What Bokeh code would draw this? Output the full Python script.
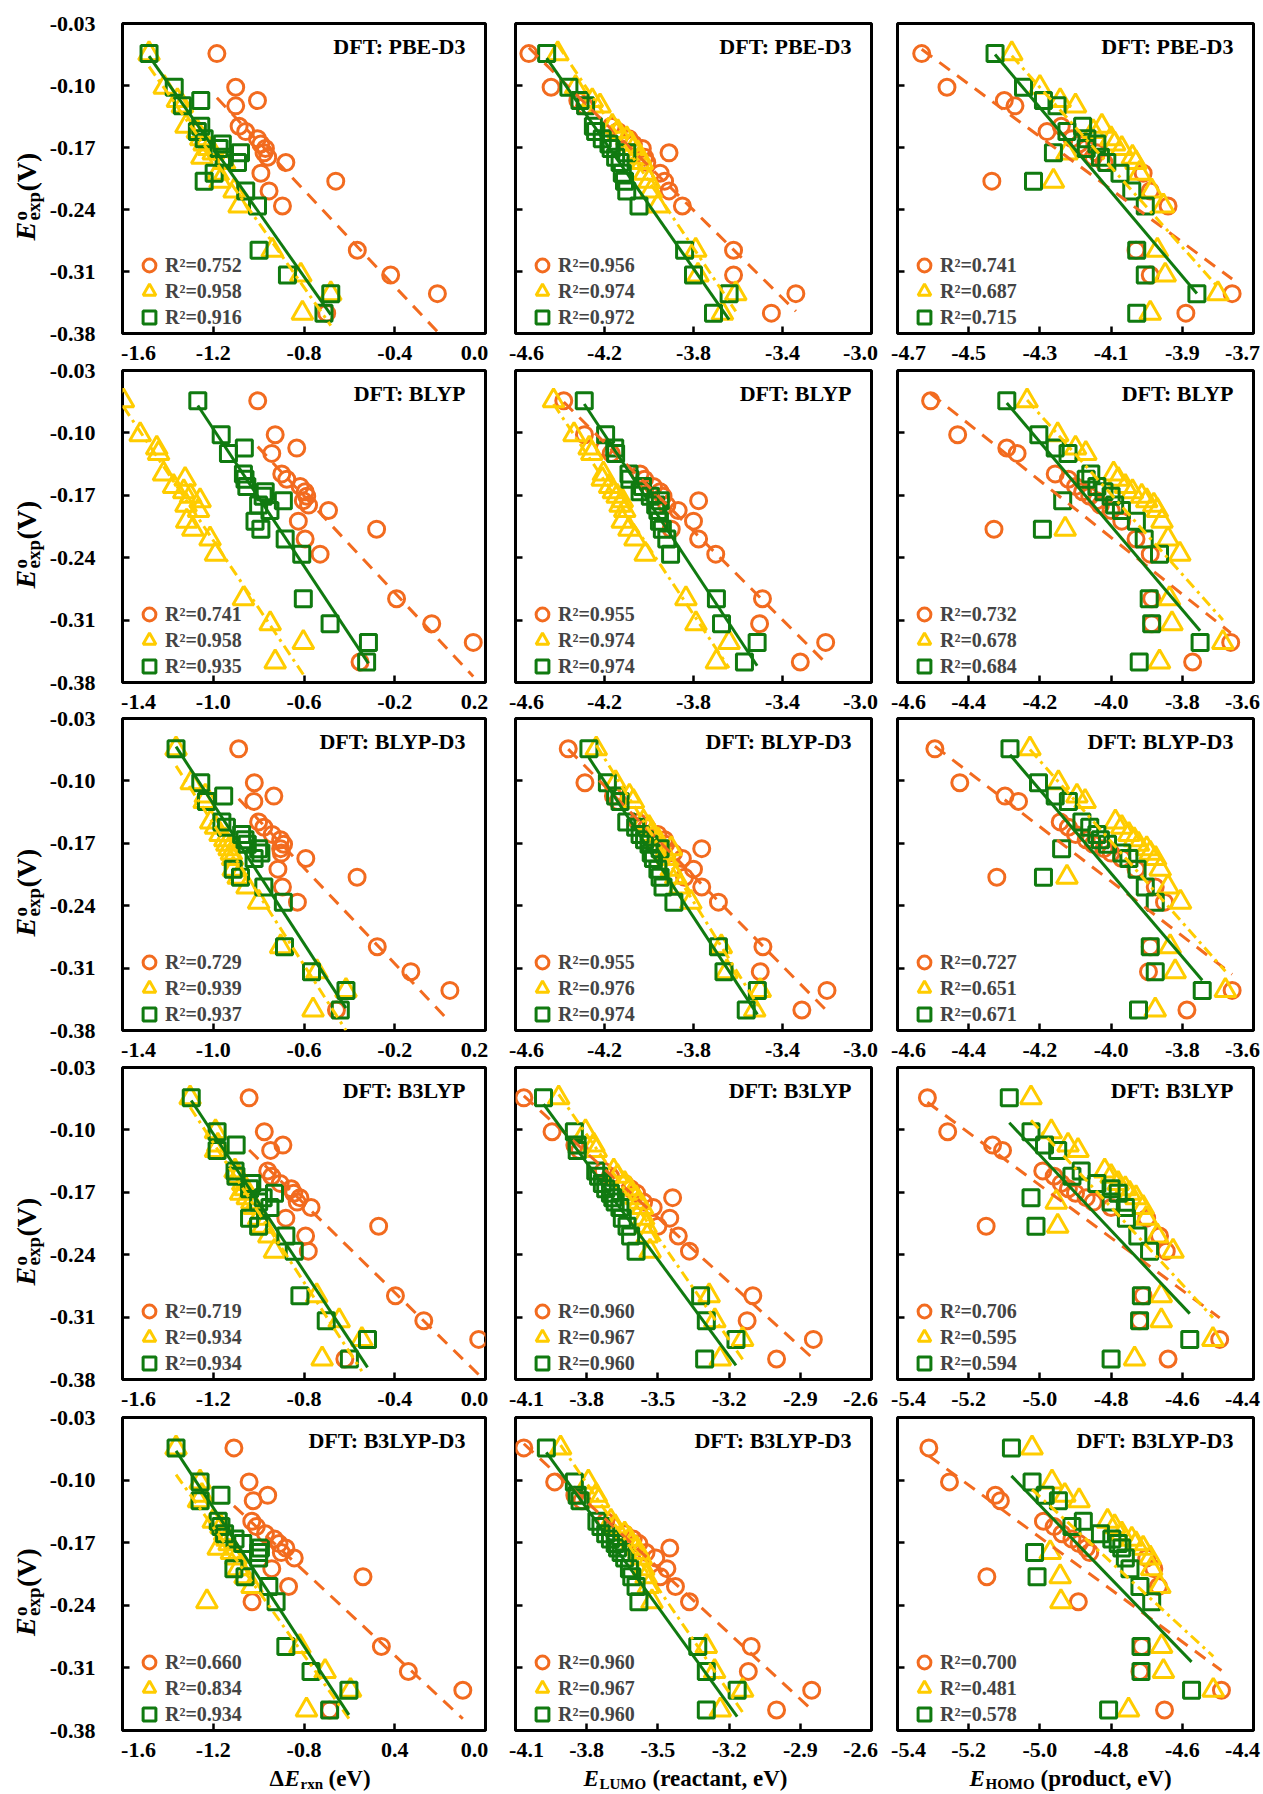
import math
import numpy as np
from bokeh.plotting import figure
from bokeh.models import (Range1d, FixedTicker, Label, Legend, LegendItem,
                          CustomJSTickFormatter)
from bokeh.layouts import row, column
from bokeh.embed import file_html
from bokeh.resources import INLINE

# ---------------- data ----------------
# experimental potentials (same molecules in every panel)
Y_EXP = [-0.064, -0.102, -0.117, -0.123, -0.146, -0.152, -0.160, -0.166, -0.171, -0.176,
         -0.181, -0.187, -0.199, -0.208, -0.219, -0.236, -0.286, -0.314, -0.335, -0.357]

FUNCTIONALS = ["PBE-D3", "BLYP", "BLYP-D3", "B3LYP", "B3LYP-D3"]

# PBE-D3
PBED3_DE_O = [-1.184, -1.101, -1.005, -1.101, -1.086, -1.057, -1.005, -0.990, -0.970, -0.976, -0.960, -0.880, -0.990, -0.660, -0.954, -0.895, -0.565, -0.418, -0.212, -0.700]
PBED3_DE_T = [-1.483, -1.416, -1.358, -1.336, -1.320, -1.270, -1.255, -1.240, -1.220, -1.200, -1.250, -1.150, -1.180, -1.170, -1.108, -1.086, -0.940, -0.814, -0.682, -0.807]
PBED3_DE_S = [-1.483, -1.372, -1.255, -1.336, -1.255, -1.270, -1.240, -1.160, -1.174, -1.080, -1.152, -1.093, -1.196, -1.240, -1.057, -1.005, -0.998, -0.873, -0.682, -0.712]
PBED3_LUMO_O = [-4.54, -4.44, -4.32, -4.29, -4.17, -4.14, -4.09, -4.07, -4.03, -3.91, -4.02, -4.01, -3.95, -3.93, -3.91, -3.85, -3.62, -3.62, -3.34, -3.45]
PBED3_LUMO_T = [-4.41, -4.33, -4.255, -4.22, -4.165, -4.14, -4.10, -4.08, -4.07, -4.05, -4.04, -4.03, -4.02, -4.00, -3.99, -3.96, -3.79, -3.78, -3.61, -3.67]
PBED3_LUMO_S = [-4.46, -4.36, -4.31, -4.285, -4.25, -4.24, -4.21, -4.18, -4.17, -4.10, -4.15, -4.13, -4.12, -4.11, -4.10, -4.045, -3.84, -3.80, -3.64, -3.71]
PBED3_HOMO_O = [-4.632, -4.561, -4.40, -4.37, -4.24, -4.28, -4.21, -4.19, -4.17, -4.14, -4.15, -4.12, -4.01, -4.435, -3.99, -3.94, -4.03, -3.99, -3.76, -3.89]
PBED3_HOMO_T = [-4.379, -4.30, -4.243, -4.20, -4.126, -4.15, -4.10, -4.09, -4.07, -4.224, -4.04, -4.03, -4.02, -4.262, -3.986, -3.953, -3.97, -3.948, -3.80, -3.99]
PBED3_HOMO_S = [-4.426, -4.346, -4.29, -4.252, -4.18, -4.224, -4.168, -4.14, -4.17, -4.262, -4.13, -4.112, -4.075, -4.318, -4.042, -4.004, -4.028, -4.004, -3.859, -4.028]

# BLYP
BLYP_DE_O = [-0.804, -0.727, -0.632, -0.742, -0.698, -0.676, -0.617, -0.595, -0.588, -0.603, -0.580, -0.492, -0.625, -0.280, -0.595, -0.529, -0.192, -0.037, 0.146, -0.353]
BLYP_DE_T = [-1.396, -1.322, -1.249, -1.241, -1.219, -1.124, -1.175, -1.130, -1.100, -1.058, -1.120, -1.065, -1.117, -1.090, -1.014, -0.990, -0.867, -0.749, -0.603, -0.727]
BLYP_DE_S = [-1.068, -0.965, -0.863, -0.933, -0.867, -0.860, -0.852, -0.771, -0.780, -0.691, -0.800, -0.750, -0.816, -0.790, -0.683, -0.610, -0.603, -0.485, -0.316, -0.324]
BLYP_LUMO_O = [-4.383, -4.29, -4.20, -4.17, -4.04, -4.02, -3.98, -3.95, -3.937, -3.777, -3.92, -3.869, -3.80, -3.90, -3.777, -3.70, -3.49, -3.503, -3.206, -3.32]
BLYP_LUMO_T = [-4.429, -4.337, -4.269, -4.257, -4.205, -4.21, -4.177, -4.16, -4.143, -4.12, -4.13, -4.109, -4.12, -4.09, -4.063, -4.017, -3.834, -3.789, -3.64, -3.697]
BLYP_LUMO_S = [-4.291, -4.195, -4.154, -4.15, -4.09, -4.086, -4.029, -4.04, -3.994, -3.949, -3.97, -3.96, -3.953, -3.94, -3.92, -3.903, -3.697, -3.674, -3.514, -3.571]
BLYP_HOMO_O = [-4.507, -4.431, -4.293, -4.264, -4.157, -4.12, -4.10, -4.08, -4.06, -4.04, -4.03, -4.00, -3.97, -4.329, -3.93, -3.89, -3.886, -3.886, -3.664, -3.771]
BLYP_HOMO_T = [-4.236, -4.15, -4.10, -4.071, -3.993, -3.98, -3.96, -3.94, -3.914, -3.90, -3.88, -3.87, -3.857, -4.129, -3.84, -3.807, -3.836, -3.829, -3.686, -3.864]
BLYP_HOMO_S = [-4.293, -4.203, -4.157, -4.121, -4.057, -4.07, -4.04, -4.02, -4.00, -4.136, -3.99, -3.971, -3.929, -4.193, -3.907, -3.864, -3.893, -3.886, -3.75, -3.921]

# BLYP-D3
BLYPD3_DE_O = [-0.888, -0.819, -0.733, -0.821, -0.800, -0.777, -0.740, -0.703, -0.690, -0.703, -0.700, -0.592, -0.715, -0.366, -0.695, -0.629, -0.277, -0.129, 0.043, -0.457]
BLYPD3_DE_T = [-1.164, -1.097, -1.035, -1.040, -1.011, -0.990, -0.970, -0.949, -0.940, -0.930, -0.920, -0.915, -0.912, -0.890, -0.851, -0.800, -0.703, -0.543, -0.415, -0.560]
BLYPD3_DE_S = [-1.164, -1.055, -0.954, -1.030, -0.962, -0.942, -0.875, -0.860, -0.850, -0.800, -0.790, -0.820, -0.912, -0.880, -0.777, -0.691, -0.686, -0.567, -0.415, -0.440]
BLYPD3_LUMO_O = [-4.363, -4.288, -4.16, -4.14, -4.05, -4.01, -3.96, -3.93, -3.925, -3.763, -3.89, -3.85, -3.80, -3.84, -3.763, -3.688, -3.488, -3.50, -3.20, -3.313]
BLYPD3_LUMO_T = [-4.237, -4.15, -4.088, -4.07, -4.025, -4.00, -3.99, -3.96, -3.95, -3.90, -3.93, -3.915, -3.90, -3.88, -3.86, -3.812, -3.675, -3.65, -3.50, -3.525]
BLYPD3_LUMO_S = [-4.27, -4.187, -4.15, -4.13, -4.10, -4.06, -4.04, -4.02, -4.00, -3.95, -3.99, -3.98, -3.96, -3.95, -3.937, -3.888, -3.688, -3.663, -3.513, -3.563]
BLYPD3_HOMO_O = [-4.495, -4.425, -4.298, -4.26, -4.143, -4.12, -4.10, -4.07, -4.05, -4.02, -4.00, -3.97, -3.93, -4.321, -3.876, -3.85, -3.89, -3.895, -3.66, -3.787]
BLYPD3_HOMO_T = [-4.228, -4.148, -4.096, -4.073, -3.988, -3.97, -3.95, -3.935, -3.923, -3.90, -3.89, -3.875, -3.862, -4.124, -3.84, -3.805, -3.834, -3.82, -3.679, -3.876]
BLYPD3_HOMO_S = [-4.284, -4.204, -4.157, -4.12, -4.082, -4.06, -4.04, -4.03, -4.01, -4.139, -3.97, -3.95, -3.927, -4.19, -3.904, -3.876, -3.89, -3.876, -3.744, -3.923]

# B3LYP
B3LYP_DE_O = [-1.042, -0.975, -0.893, -0.947, -0.960, -0.942, -0.905, -0.856, -0.845, -0.818, -0.830, -0.769, -0.880, -0.471, -0.793, -0.781, -0.397, -0.272, -0.030, -0.620]
B3LYP_DE_T = [-1.302, -1.190, -1.180, -1.190, -1.104, -1.090, -1.070, -1.060, -1.079, -1.050, -1.030, -1.020, -1.000, -0.980, -0.955, -0.930, -0.744, -0.645, -0.545, -0.720]
B3LYP_DE_S = [-1.297, -1.183, -1.099, -1.183, -1.104, -1.100, -1.030, -1.040, -0.930, -0.980, -1.000, -0.950, -1.040, -1.000, -0.880, -0.843, -0.818, -0.702, -0.520, -0.600]
B3LYP_LUMO_O = [-4.065, -3.946, -3.85, -3.83, -3.73, -3.70, -3.64, -3.615, -3.59, -3.438, -3.56, -3.52, -3.45, -3.50, -3.414, -3.367, -3.10, -3.124, -2.845, -3.0]
B3LYP_LUMO_T = [-3.918, -3.805, -3.77, -3.76, -3.686, -3.67, -3.64, -3.62, -3.61, -3.592, -3.58, -3.565, -3.56, -3.55, -3.545, -3.533, -3.284, -3.26, -3.143, -3.237]
B3LYP_LUMO_S = [-3.982, -3.852, -3.84, -3.84, -3.762, -3.75, -3.734, -3.72, -3.70, -3.69, -3.68, -3.66, -3.65, -3.63, -3.615, -3.592, -3.32, -3.296, -3.171, -3.303]
B3LYP_HOMO_O = [-5.316, -5.259, -5.133, -5.105, -4.992, -4.96, -4.94, -4.92, -4.90, -4.87, -4.85, -4.80, -4.70, -5.151, -4.664, -4.645, -4.71, -4.72, -4.495, -4.64]
B3LYP_HOMO_T = [-5.025, -4.968, -4.921, -4.893, -4.818, -4.80, -4.78, -4.76, -4.748, -4.73, -4.954, -4.71, -4.701, -4.95, -4.67, -4.626, -4.659, -4.659, -4.514, -4.734]
B3LYP_HOMO_S = [-5.086, -5.025, -4.987, -4.95, -4.884, -4.91, -4.84, -4.80, -4.78, -5.025, -4.80, -4.76, -4.757, -5.011, -4.725, -4.692, -4.715, -4.72, -4.579, -4.80]

# B3LYP-D3
B3LYPD3_DE_O = [-1.109, -1.042, -0.960, -1.024, -1.030, -1.010, -0.970, -0.930, -0.910, -0.880, -0.900, -0.843, -0.942, -0.540, -0.868, -1.029, -0.459, -0.340, -0.100, -0.687]
B3LYPD3_DE_T = [-1.364, -1.258, -1.250, -1.265, -1.200, -1.166, -1.150, -1.140, -1.130, -1.178, -1.120, -1.100, -1.090, -1.060, -1.029, -1.228, -0.818, -0.707, -0.595, -0.789]
B3LYPD3_DE_S = [-1.364, -1.258, -1.166, -1.258, -1.178, -1.166, -1.150, -1.104, -1.070, -0.992, -1.000, -1.000, -1.109, -1.060, -0.955, -0.923, -0.880, -0.769, -0.602, -0.687]
B3LYPD3_LUMO_O = [-4.065, -3.935, -3.85, -3.82, -3.72, -3.69, -3.64, -3.604, -3.58, -3.45, -3.55, -3.509, -3.462, -3.49, -3.426, -3.367, -3.107, -3.119, -2.852, -3.0]
B3LYPD3_LUMO_T = [-3.91, -3.793, -3.76, -3.75, -3.698, -3.68, -3.64, -3.62, -3.61, -3.59, -3.58, -3.57, -3.56, -3.55, -3.54, -3.525, -3.296, -3.261, -3.143, -3.237]
B3LYPD3_LUMO_S = [-3.97, -3.852, -3.84, -3.828, -3.757, -3.74, -3.72, -3.70, -3.68, -3.67, -3.655, -3.64, -3.62, -3.61, -3.592, -3.58, -3.332, -3.296, -3.166, -3.296]
B3LYPD3_HOMO_O = [-5.312, -5.254, -5.125, -5.111, -4.99, -4.96, -4.938, -4.91, -4.89, -4.87, -4.86, -4.70, -4.68, -5.149, -4.667, -4.892, -4.714, -4.719, -4.49, -4.65]
B3LYPD3_HOMO_T = [-5.022, -4.966, -4.93, -4.89, -4.81, -4.79, -4.77, -4.742, -4.73, -4.71, -4.971, -4.69, -4.686, -4.943, -4.663, -4.941, -4.658, -4.653, -4.513, -4.751]
B3LYPD3_HOMO_S = [-5.08, -5.022, -4.985, -4.948, -4.878, -4.91, -4.83, -4.798, -4.78, -4.77, -5.015, -4.76, -4.747, -5.008, -4.719, -4.686, -4.716, -4.716, -4.574, -4.807]

# R^2 values per panel: [circle, triangle, square]
R2_PBED3 = [[0.752, 0.958, 0.916], [0.956, 0.974, 0.972], [0.741, 0.687, 0.715]]
R2_BLYP = [[0.741, 0.958, 0.935], [0.955, 0.974, 0.974], [0.732, 0.678, 0.684]]
R2_BLYPD3 = [[0.729, 0.939, 0.937], [0.955, 0.976, 0.974], [0.727, 0.651, 0.671]]
R2_B3LYP = [[0.719, 0.934, 0.934], [0.960, 0.967, 0.960], [0.706, 0.595, 0.594]]
R2_B3LYPD3 = [[0.660, 0.834, 0.934], [0.960, 0.967, 0.960], [0.700, 0.481, 0.578]]

# ticks
Y_TICKS = [-0.38, -0.31, -0.24, -0.17, -0.10, -0.03]
Y_LABELS = ["-0.38", "-0.31", "-0.24", "-0.17", "-0.10", "-0.03"]
TICKS_DE_A = [-1.6, -1.2, -0.8, -0.4, 0.0]
LABELS_DE_A = ["-1.6", "-1.2", "-0.8", "-0.4", "0.0"]
LABELS_DE_E = ["-1.6", "-1.2", "-0.8", "0.4", "0.0"]
TICKS_DE_B = [-1.4, -1.0, -0.6, -0.2, 0.2]
LABELS_DE_B = ["-1.4", "-1.0", "-0.6", "-0.2", "0.2"]
TICKS_LUMO_A = [-4.6, -4.2, -3.8, -3.4, -3.0]
LABELS_LUMO_A = ["-4.6", "-4.2", "-3.8", "-3.4", "-3.0"]
TICKS_LUMO_B = [-4.1, -3.8, -3.5, -3.2, -2.9, -2.6]
LABELS_LUMO_B = ["-4.1", "-3.8", "-3.5", "-3.2", "-2.9", "-2.6"]
TICKS_HOMO_A = [-4.7, -4.5, -4.3, -4.1, -3.9, -3.7]
LABELS_HOMO_A = ["-4.7", "-4.5", "-4.3", "-4.1", "-3.9", "-3.7"]
TICKS_HOMO_B = [-4.6, -4.4, -4.2, -4.0, -3.8, -3.6]
LABELS_HOMO_B = ["-4.6", "-4.4", "-4.2", "-4.0", "-3.8", "-3.6"]
TICKS_HOMO_C = [-5.4, -5.2, -5.0, -4.8, -4.6, -4.4]
LABELS_HOMO_C = ["-5.4", "-5.2", "-5.0", "-4.8", "-4.6", "-4.4"]

# ---------------- assembly ----------------
PANELS = [
    [(PBED3_DE_O, PBED3_DE_T, PBED3_DE_S, TICKS_DE_A, LABELS_DE_A),
     (PBED3_LUMO_O, PBED3_LUMO_T, PBED3_LUMO_S, TICKS_LUMO_A, LABELS_LUMO_A),
     (PBED3_HOMO_O, PBED3_HOMO_T, PBED3_HOMO_S, TICKS_HOMO_A, LABELS_HOMO_A)],
    [(BLYP_DE_O, BLYP_DE_T, BLYP_DE_S, TICKS_DE_B, LABELS_DE_B),
     (BLYP_LUMO_O, BLYP_LUMO_T, BLYP_LUMO_S, TICKS_LUMO_A, LABELS_LUMO_A),
     (BLYP_HOMO_O, BLYP_HOMO_T, BLYP_HOMO_S, TICKS_HOMO_B, LABELS_HOMO_B)],
    [(BLYPD3_DE_O, BLYPD3_DE_T, BLYPD3_DE_S, TICKS_DE_B, LABELS_DE_B),
     (BLYPD3_LUMO_O, BLYPD3_LUMO_T, BLYPD3_LUMO_S, TICKS_LUMO_A, LABELS_LUMO_A),
     (BLYPD3_HOMO_O, BLYPD3_HOMO_T, BLYPD3_HOMO_S, TICKS_HOMO_B, LABELS_HOMO_B)],
    [(B3LYP_DE_O, B3LYP_DE_T, B3LYP_DE_S, TICKS_DE_A, LABELS_DE_A),
     (B3LYP_LUMO_O, B3LYP_LUMO_T, B3LYP_LUMO_S, TICKS_LUMO_B, LABELS_LUMO_B),
     (B3LYP_HOMO_O, B3LYP_HOMO_T, B3LYP_HOMO_S, TICKS_HOMO_C, LABELS_HOMO_C)],
    [(B3LYPD3_DE_O, B3LYPD3_DE_T, B3LYPD3_DE_S, TICKS_DE_A, LABELS_DE_E),
     (B3LYPD3_LUMO_O, B3LYPD3_LUMO_T, B3LYPD3_LUMO_S, TICKS_LUMO_B, LABELS_LUMO_B),
     (B3LYPD3_HOMO_O, B3LYPD3_HOMO_T, B3LYPD3_HOMO_S, TICKS_HOMO_C, LABELS_HOMO_C)],
]
R2_ALL = [R2_PBED3, R2_BLYP, R2_BLYPD3, R2_B3LYP, R2_B3LYPD3]

ORANGE = "#F26B1F"
YELLOW = "#FFCC00"
GREEN = "#107A10"
FONT = "Liberation Serif"

# page geometry (pixels)
TOTAL_W, TOTAL_H = 1263, 1794
GUTTER_W = 120
FRAME_LEFT = [122, 515, 897]
FRAME_W = [363, 356, 356]
FRAME_TOP = [23, 370, 718, 1067, 1417]
FRAME_H = [310, 312, 312, 312, 313]
PANEL_BL = [2, 15, 13]
PANEL_BR = [15, 13, 10]
PANEL_BT = [23, 2, 2, 2, 2]
PANEL_BB = 2
STRIP_H = [33, 32, 33, 34, 62]
TICK_MID = 17.5         # vertical centre of x tick labels inside each strip
FIRST_NUDGE = [16, 11, 11]
LAST_NUDGE = -11

# x-axis title pieces: (text, x, vertical centre in last strip, size, style)
X_TITLE_PARTS = [
    [("\u0394", 269, 46, "23px", "bold"), ("E", 284, 46, "23px", "bold italic"),
     ("rxn", 300, 51, "15px", "bold"), ("(eV)", 328, 46, "23px", "bold")],
    [("E", 583, 46, "23px", "bold italic"), ("LUMO", 599, 51, "15px", "bold"),
     ("(reactant, eV)", 652, 46, "23px", "bold")],
    [("E", 969, 46, "23px", "bold italic"), ("HOMO", 985, 51, "15px", "bold"),
     ("(product, eV)", 1040, 46, "23px", "bold")],
]
# y-axis title pieces: (text, x centre, start below frame centre, size, style)
Y_TITLE_PARTS = [("E", 25, 62, "28px", "bold italic"),
                 ("o", 20, 42, "19px", "bold"),
                 ("exp", 33, 42, "19px", "bold"),
                 ("(V)", 26, 13, "28px", "bold")]


def add_text(p, x, y, s, size="22px", style="bold", align="left",
             baseline="middle", angle=0.0):
    p.add_layout(Label(x=x, y=y, text=s, text_font=FONT, text_font_style=style,
                       text_font_size=size, text_align=align, text_baseline=baseline,
                       angle=angle, text_color="black"))


def blank_fig(w, h, x0, x1):
    f = figure(width=w, height=h, x_range=Range1d(x0, x1), y_range=Range1d(h, 0),
               output_backend="svg", toolbar_location=None, tools="",
               x_axis_type=None, y_axis_type=None,
               min_border_left=0, min_border_right=0, min_border_top=0, min_border_bottom=0)
    f.outline_line_color = None
    f.background_fill_color = "white"
    f.border_fill_color = "white"
    return f


def style_axis(ax):
    ax.axis_line_color = None
    ax.major_tick_in = 7
    ax.major_tick_out = 0
    ax.major_tick_line_width = 2.5
    ax.major_tick_line_color = "black"
    ax.minor_tick_line_color = None
    ax.formatter = CustomJSTickFormatter(code="return ''")
    ax.major_label_text_color = None
    ax.major_label_text_font_size = "1px"
    ax.major_label_standoff = 0


def make_panel(ri, ci):
    xo, xt, xs, ticks, labels = PANELS[ri][ci]
    r2 = R2_ALL[ri][ci]
    w = PANEL_BL[ci] + FRAME_W[ci] + PANEL_BR[ci]
    h = PANEL_BT[ri] + FRAME_H[ri] + PANEL_BB
    p = figure(width=w, height=h,
               x_range=Range1d(ticks[0], ticks[-1]), y_range=Range1d(-0.38, -0.03),
               output_backend="svg", toolbar_location=None, tools="",
               min_border_left=PANEL_BL[ci], min_border_right=PANEL_BR[ci],
               min_border_top=PANEL_BT[ri], min_border_bottom=PANEL_BB)
    p.xgrid.visible = False
    p.ygrid.visible = False
    p.background_fill_color = "white"
    p.border_fill_color = "white"
    p.outline_line_color = "black"
    p.outline_line_width = 3
    p.outline_line_alpha = 1.0
    p.xaxis.ticker = FixedTicker(ticks=ticks)
    p.yaxis.ticker = FixedTicker(ticks=Y_TICKS)
    style_axis(p.xaxis[0])
    style_axis(p.yaxis[0])

    r_o = p.scatter(xo, Y_EXP, marker="circle", size=16, line_color=ORANGE,
                    line_width=3, fill_color=None)
    r_t = p.scatter(xt, Y_EXP, marker="triangle", size=21, line_color=YELLOW,
                    line_width=3, fill_color=None)
    r_s = p.scatter(xs, Y_EXP, marker="square", size=16, line_color=GREEN,
                    line_width=3, fill_color=None)

    # linear trend lines (least-squares fit of each series)
    for xv, col, dash in ((xo, ORANGE, "13 9"), (xt, YELLOW, "11 5 3 5"), (xs, GREEN, "solid")):
        xa = np.array(xv)
        k, b = np.polyfit(xa, np.array(Y_EXP), 1)
        lx = [float(xa.min()), float(xa.max())]
        ly = [k * lx[0] + b, k * lx[1] + b]
        p.line(lx, ly, line_color=col, line_width=3, line_dash=dash)

    # legend: one single-item legend per row so the rows can sit close together
    for k, (rend, val) in enumerate(zip((r_o, r_t, r_s), r2)):
        lg = Legend(items=[LegendItem(label="R\u00b2=%.3f" % val, renderers=[rend])],
                    location=(11, 52 - 26 * k), orientation="vertical",
                    padding=0, margin=0, spacing=0, glyph_width=32, glyph_height=32,
                    label_standoff=0, label_text_font=FONT, label_text_font_style="bold",
                    label_text_font_size="20px", border_line_color=None,
                    background_fill_alpha=0)
        p.add_layout(lg)

    # panel title
    p.add_layout(Label(x=ticks[-1], y=-0.03, x_offset=-20, y_offset=-23,
                       text="DFT: " + FUNCTIONALS[ri], text_align="right",
                       text_baseline="middle", text_font=FONT,
                       text_font_style="bold", text_font_size="22px",
                       text_color="black"))
    return p


# left gutter: y tick labels and y-axis titles
gutter = blank_fig(GUTTER_W, TOTAL_H, 0, GUTTER_W)
for ri in range(5):
    for v, lab in zip(Y_TICKS, Y_LABELS):
        yy = FRAME_TOP[ri] + (-0.03 - v) / 0.35 * FRAME_H[ri]
        add_text(gutter, 95, yy, lab, size="22px", align="right")
    yc = FRAME_TOP[ri] + FRAME_H[ri] / 2.0
    for t, xx, dy, fs, st in Y_TITLE_PARTS:
        add_text(gutter, xx, yc + dy, t, size=fs, style=st, angle=math.pi / 2)

rows = []
for ri in range(5):
    panels = [make_panel(ri, ci) for ci in range(3)]
    rows.append(row(*panels))
    strip = blank_fig(TOTAL_W - GUTTER_W, STRIP_H[ri], GUTTER_W, TOTAL_W)
    for ci in range(3):
        ticks = PANELS[ri][ci][3]
        labels = PANELS[ri][ci][4]
        n = len(ticks)
        for i, (t, lab) in enumerate(zip(ticks, labels)):
            xx = FRAME_LEFT[ci] + (t - ticks[0]) / (ticks[-1] - ticks[0]) * FRAME_W[ci]
            if i == 0:
                xx += FIRST_NUDGE[ci]
            elif i == n - 1:
                xx += LAST_NUDGE
            add_text(strip, xx, TICK_MID, lab, size="22px", align="center")
    if ri == 4:
        for parts in X_TITLE_PARTS:
            for t, xx, yy, fs, st in parts:
                add_text(strip, xx, yy, t, size=fs, style=st)
    rows.append(strip)

layout = row(gutter, column(*rows))

open("out.html", "w").write(file_html(layout, INLINE))
